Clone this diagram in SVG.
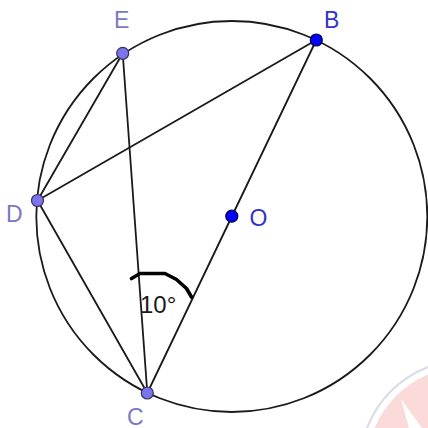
<svg xmlns="http://www.w3.org/2000/svg" width="428" height="428" viewBox="0 0 428 428">
<style>
.ln{stroke:#1a1a1a;stroke-width:1.8;fill:none;stroke-linecap:round}
.pd{fill:#7c74ec;stroke:#34345e;stroke-width:1.2}
.pf{fill:#0000ff;stroke:#00003c;stroke-width:1.2}
.lbp{font-family:"Liberation Sans",Arial,sans-serif;font-size:23px;fill:#7b78c4}
.lbb{font-family:"Liberation Sans",Arial,sans-serif;font-size:23px;fill:#3434c8}
.ang{font-family:"Liberation Sans",Arial,sans-serif;font-size:24px;fill:#1a1a1a}
</style>
<rect width="428" height="428" fill="#ffffff"/>
<g id="watermark" opacity="0.9">
<circle cx="466" cy="466" r="99" fill="#fbd6d6"/>
<polygon points="401,399 422,428 409,428" fill="#ffffff"/>
<circle cx="466" cy="466" r="106" fill="none" stroke="#d6d9ea" stroke-width="2.2"/>
</g>
<g id="connectors">
<circle class="ln" cx="231.8" cy="216.5" r="195.5"/>
<line class="ln" x1="122.7" y1="53.3" x2="147.3" y2="393"/>
<line class="ln" x1="122.7" y1="53.3" x2="37.5" y2="200.5"/>
<line class="ln" x1="37.5" y1="200.5" x2="316.3" y2="40"/>
<line class="ln" x1="37.5" y1="200.5" x2="147.3" y2="393"/>
<line class="ln" x1="316.3" y1="40" x2="147.3" y2="393"/>
<polyline id="angle-mark" points="131.5,278.5 140,273.5 165,273.5 176.5,279.5 186.5,288.5 191.5,297" fill="none" stroke="#000" stroke-width="3.6" stroke-linejoin="round" stroke-linecap="round"/>
</g>
<g id="E"><circle class="pd" cx="122.7" cy="53.3" r="6"/><text class="lbp" x="114" y="28">E</text></g>
<g id="B"><circle class="pf" cx="316.3" cy="40" r="6"/><text class="lbb" x="324" y="27.5">B</text></g>
<g id="D"><circle class="pd" cx="37.5" cy="200.5" r="6"/><text class="lbp" x="6" y="221.5">D</text></g>
<g id="O"><circle class="pf" cx="231.8" cy="216.2" r="6"/><text class="lbb" x="249.5" y="225.5">O</text></g>
<g id="C"><circle class="pd" cx="147.3" cy="393" r="6"/><text class="lbp" x="127" y="424.5">C</text></g>
<g id="angle-label"><text class="ang" x="140" y="312.5">10°</text></g>
</svg>
